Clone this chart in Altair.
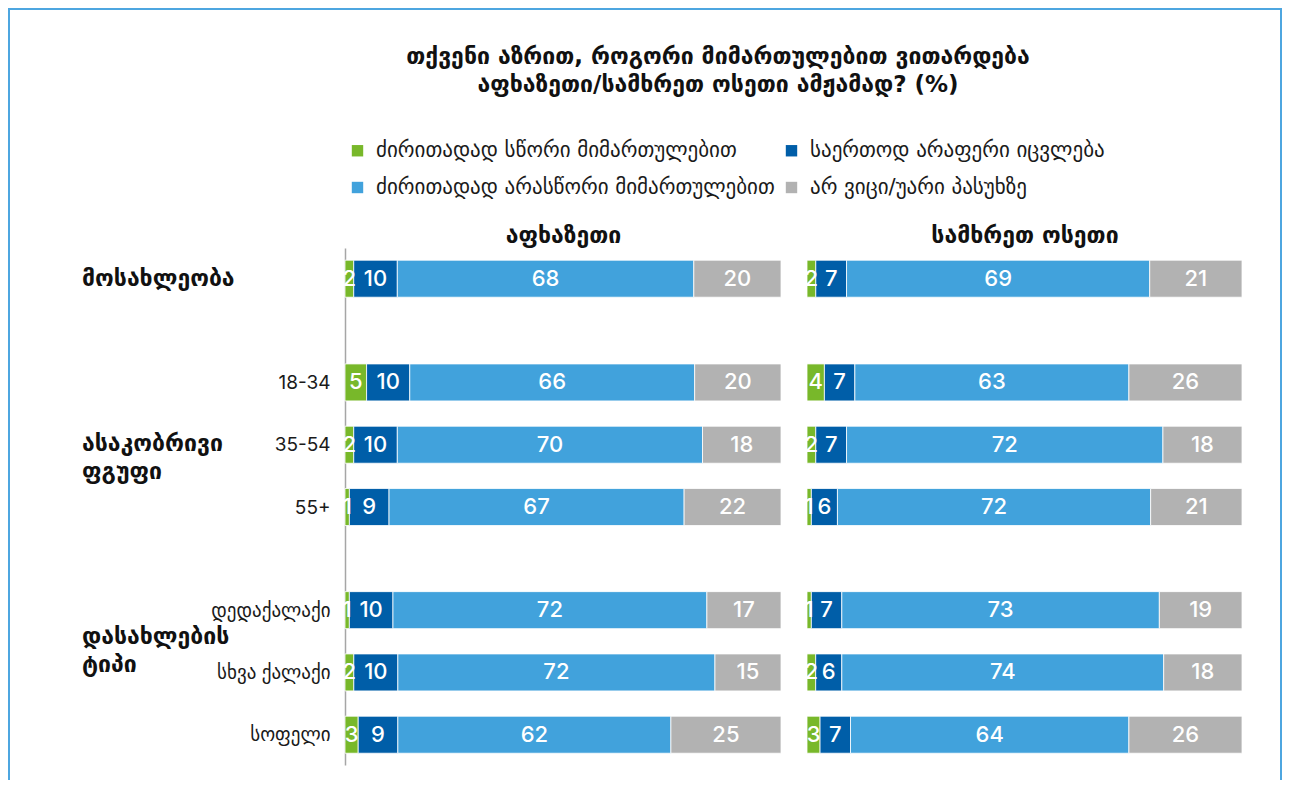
import altair as alt
import pandas as pd

# ---------------- data ----------------
title_lines = [
    "თქვენი აზრით, როგორი მიმართულებით ვითარდება",
    "აფხაზეთი/სამხრეთ ოსეთი ამჟამად? (%)",
]
panels = ["აფხაზეთი", "სამხრეთ ოსეთი"]
categories = [
    "ძირითადად სწორი მიმართულებით",
    "საერთოდ არაფერი იცვლება",
    "ძირითადად არასწორი მიმართულებით",
    "არ ვიცი/უარი პასუხზე",
]
rows = ["მოსახლეობა", "18-34", "35-54", "55+", "დედაქალაქი", "სხვა ქალაქი", "სოფელი"]
groups = ["მოსახლეობა", "ასაკობრივი\nფგუფი", "დასახლების\nტიპი"]

abkhazia_right = [2, 5, 2, 1, 1, 2, 3]
abkhazia_nothing = [10, 10, 10, 9, 10, 10, 9]
abkhazia_wrong = [68, 66, 70, 67, 72, 72, 62]
abkhazia_dk = [20, 20, 18, 22, 17, 15, 25]

ossetia_right = [2, 4, 2, 1, 1, 2, 3]
ossetia_nothing = [7, 7, 7, 6, 7, 6, 7]
ossetia_wrong = [69, 63, 72, 72, 73, 74, 64]
ossetia_dk = [21, 26, 18, 21, 19, 18, 26]

# ---------------- style / layout ----------------
colors = ["#78B82A", "#005EA8", "#41A2DC", "#B2B2B2"]
ROW_SLOT = [0, 1.665, 2.665, 3.665, 5.32, 6.32, 7.32]
GROUP_SLOT = [0, 2.653, 5.75]
GEO = "DejaVu Sans"
NUM = "Inter, DejaVu Sans"
W, H = 1274, 772


def panel_df(series):
    recs = []
    for k, (cat, vals) in enumerate(zip(categories, series)):
        for i, (r, v) in enumerate(zip(rows, vals)):
            recs.append(dict(row=r, slot=ROW_SLOT[i], cat=cat, k=k, value=v))
    return pd.DataFrame(recs)


yscale = alt.Scale(domain=[-0.493, 7.806], range=[240, 757], nice=False, zero=False, padding=0)
expr = "''"
for s, r in reversed(list(zip(ROW_SLOT[1:], rows[1:]))):
    expr = f"abs(datum.value - {s}) < 0.01 ? '{r}' : ({expr})"
yaxis = alt.Axis(
    orient="left", offset=-337, values=ROW_SLOT[1:], labelExpr=expr, title=None,
    ticks=False, grid=False, domainColor="#A6A6A6", domainWidth=1.5,
    labelPadding=15, labelFontSize=19, labelFont=NUM, labelColor="#1a1a1a",
    labelOverlap=False, labelBound=False,
)
legend = alt.Legend(
    orient="none", legendX=339, legendY=132, columns=2, title=None,
    values=[categories[0], categories[2], categories[1], categories[3]],
    symbolType="square", symbolSize=130, symbolStrokeWidth=0,
    labelFontSize=21, labelFont=GEO, labelColor="#1a1a1a", labelLimit=800,
    labelOffset=8, rowPadding=15, columnPadding=6, padding=0,
)
cscale = alt.Scale(domain=categories, range=colors)


def panel(series, name, xr):
    df = panel_df(series)
    base = alt.Chart(df).transform_stack(
        stack="value", groupby=["row"], as_=["x0", "x1"], offset="normalize",
        sort=[alt.SortField("k", order="ascending")],
    ).transform_calculate(mid="(datum.x0 + datum.x1) / 2")
    xs = alt.Scale(domain=[0, 1], range=xr, nice=False, zero=False, padding=0)
    xaxis = alt.Axis(
        orient="top", offset=-240, title=name, labels=False, ticks=False,
        domain=False, grid=False, titleFont=GEO, titleFontSize=23,
        titleFontWeight="bold", titleColor="#111", titlePadding=6,
        titleBaseline="alphabetic",
    )
    bars = base.mark_bar(size=37, orient="horizontal", stroke="white", strokeWidth=0.8).encode(
        x=alt.X("x0:Q", scale=xs, axis=xaxis),
        x2="x1:Q",
        y=alt.Y("slot:Q", scale=yscale, axis=yaxis),
        color=alt.Color("cat:N", scale=cscale, legend=legend),
    )
    text = base.mark_text(color="white", fontSize=22, font=NUM, fontWeight=500,
                          baseline="middle").encode(
        x=alt.X("mid:Q", scale=xs, axis=xaxis),
        y=alt.Y("slot:Q", scale=yscale, axis=yaxis),
        text="value:Q",
    )
    return alt.layer(bars, text)


pA = panel([abkhazia_right, abkhazia_nothing, abkhazia_wrong, abkhazia_dk], panels[0], [337, 773])
pB = panel([ossetia_right, ossetia_nothing, ossetia_wrong, ossetia_dk], panels[1], [799, 1234])

gdf = pd.DataFrame({"label": groups, "gslot": GROUP_SLOT})
glabels = alt.Chart(gdf).mark_text(
    align="left", baseline="middle", font=GEO, fontSize=23, fontWeight="bold",
    color="#111", lineBreak="\n", lineHeight=28,
).encode(
    x=alt.value(74),
    y=alt.Y("gslot:Q", scale=yscale, axis=yaxis),
    text="label:N",
)

frame = alt.Chart(pd.DataFrame({"f": [0]})).mark_rect(
    fillOpacity=0, stroke="#4DA6E0", strokeWidth=2
).encode(x=alt.value(1), x2=alt.value(W - 1), y=alt.value(1), y2=alt.value(H + 60))

chart = alt.layer(frame, pA, pB, glabels).resolve_scale(x="independent").properties(
    width=W, height=H, padding=0,
    autosize=alt.AutoSizeParams(type="none"),
    title=alt.TitleParams(
        text=title_lines, anchor="middle", frame="group", orient="top",
        offset=-89, dx=73, fontSize=23, font=GEO, fontWeight="bold",
        color="#111", lineHeight=28, baseline="top",
    ),
).configure_view(stroke=None)

chart.save("out.html", embed_options={"renderer": "svg", "actions": False})
